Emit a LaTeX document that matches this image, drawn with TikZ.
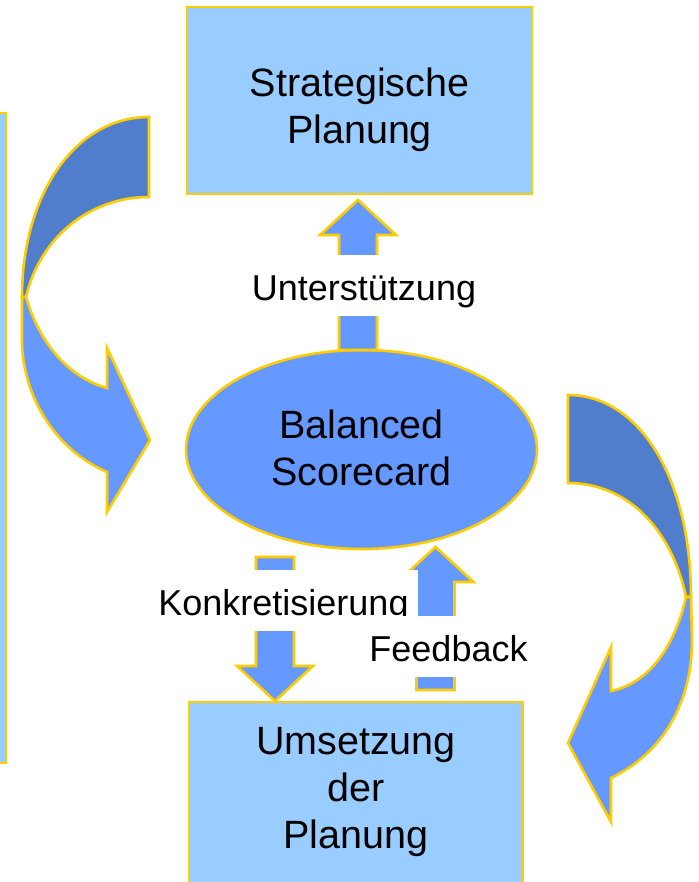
\documentclass[tikz,border=0pt]{standalone}
\usepackage{fontspec}
\setmainfont{Liberation Sans}
\usetikzlibrary{calc,shapes.geometric}

\definecolor{boxblue}{HTML}{99CCFF}
\definecolor{midblue}{HTML}{6699FF}
\definecolor{darkblue}{RGB}{80,126,204}
\definecolor{gold}{HTML}{FFCC00}

\begin{document}
\begin{tikzpicture}[
    x=1pt, y=-1pt,
    goldrim/.style={draw=gold, line width=2.6pt, line join=miter, outer sep=0pt},
    bigfont/.style={font=\fontsize{39.5}{47}\selectfont},
    planbox/.style={goldrim, bigfont, fill=boxblue, rectangle, inner sep=0pt,
        text width=320pt, align=center},
    lbl/.style={font=\fontsize{36}{43}\selectfont, fill=white, anchor=base,
        inner xsep=9pt, inner ysep=0pt, text height=45pt, text depth=16pt},
    curveback/.style={goldrim, fill=darkblue},
    curvefront/.style={goldrim, fill=midblue},
    fatarrow/.style={goldrim, fill=midblue, to path={
        let \p1=(\tikztostart), \p2=(\tikztotarget),
            \n1={\y2-sign(\y2-(\y1))*35} in
        (\x1-19pt,\y1) -- (\x1-19pt,\n1*1pt) -- (\x1-38pt,\n1*1pt) -- (\x1,\y2)
        -- (\x1+38pt,\n1*1pt) -- (\x1+19pt,\n1*1pt) -- (\x1+19pt,\y1) -- cycle}},
]
\useasboundingbox (0,0) rectangle (698,882);

% strip at the left edge
\filldraw[goldrim, fill=boxblue] (-10,113) rectangle (6,763);

% left curved arrow
\path[curveback] (149,117) .. controls (75,117) and (22,195) .. (22,297)
    -- (26,297) .. controls (40,237) and (90,197) .. (149,197) -- cycle;
\path[curvefront] (26,297) .. controls (40,345) and (70,378) .. (107,388)
    -- (107,348) -- (150,440) -- (107,512) -- (107,472)
    .. controls (55,450) and (22,395) .. (22,340) -- (22,297) -- cycle;

% right curved arrow
\path[curveback] (568,395) .. controls (640,395) and (691,480) .. (691,597)
    -- (686,597) .. controls (672,530) and (628,483) .. (568,483) -- cycle;
\path[curvefront] (686,597) .. controls (675,645) and (650,683) .. (611,691)
    -- (611,647) -- (568,743) -- (611,822) -- (611,778)
    .. controls (665,752) and (692,700) .. (692,640) -- (691,597) -- cycle;

% boxes
\node[planbox, minimum width=345pt, minimum height=187pt,
    text height=30pt, text depth=37pt] (plan) at (359.5,100.5) {Strategische\\Planung};
\node[goldrim, bigfont, ellipse, fill=midblue, minimum width=351pt, minimum height=199pt,
    inner sep=0pt, text width=200pt, align=center,
    text height=30pt, text depth=53pt] (bsc) at (361.5,449.5) {Balanced\\Scorecard};
\node[planbox, anchor=north, minimum width=334pt, minimum height=200pt,
    text height=30pt, text depth=126pt] (impl) at (356,702) {Umsetzung\\der\\Planung};

% block arrows
\draw[fatarrow] ([xshift=-3.5pt]bsc.north) to ([yshift=-6pt]plan.south);
\draw[fatarrow] ([xshift=-86.5pt,yshift=-8pt]bsc.south) to ([yshift=1pt]impl.north);
\draw[fatarrow] ([xshift=79.5pt,yshift=12pt]impl.north) to ([yshift=2pt]bsc.south);

% labels
\node[lbl] (sup) at (364,300) {Unterstützung};
\node[lbl] (konk) at (283.5,615) {Konkretisierung};
\node[lbl] (fb) at (448.5,661) {Feedback};

\end{tikzpicture}
\end{document}
